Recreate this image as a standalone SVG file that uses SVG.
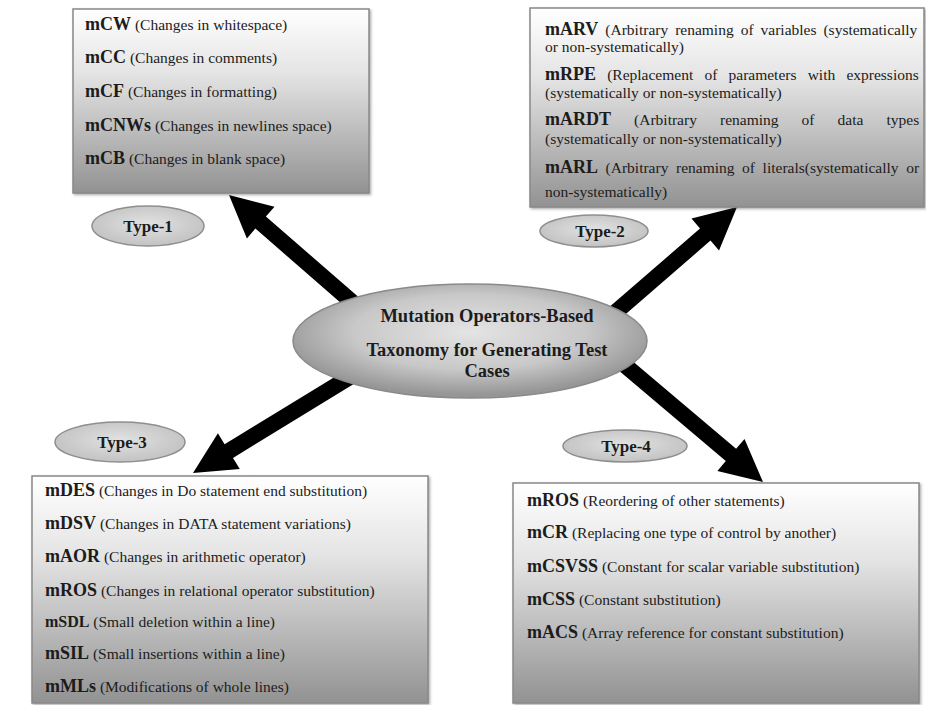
<svg xmlns="http://www.w3.org/2000/svg" width="926" height="705" viewBox="0 0 926 705">
  <defs>
    <linearGradient id="boxFill" x1="0" y1="0" x2="0" y2="1">
      <stop offset="0" stop-color="#ffffff"/>
      <stop offset="0.35" stop-color="#e4e4e4"/>
      <stop offset="1" stop-color="#929292"/>
    </linearGradient>
    <radialGradient id="hubFill" cx="0.5" cy="0.42" r="0.55">
      <stop offset="0" stop-color="#e4e4e4"/>
      <stop offset="0.6" stop-color="#c8c8c8"/>
      <stop offset="1" stop-color="#969696"/>
    </radialGradient>
    <radialGradient id="tagFill" cx="0.5" cy="0.45" r="0.55">
      <stop offset="0" stop-color="#e2e2e2"/>
      <stop offset="1" stop-color="#c2c2c2"/>
    </radialGradient>
    <filter id="shadow" x="-5%" y="-5%" width="110%" height="110%">
      <feDropShadow dx="1.5" dy="1.5" stdDeviation="1.2" flood-color="#555" flood-opacity="0.45"/>
    </filter>
  </defs>
  <style>
    .box { fill: url(#boxFill); stroke: #888; stroke-width: 1.5; filter: url(#shadow); }
    .hub { fill: url(#hubFill); stroke: #8a8a8a; stroke-width: 1.5; }
    .tag { fill: url(#tagFill); stroke: #8e8e8e; stroke-width: 1.5; }
    .arrow { fill: #000; }
    text { font-family: "Liberation Serif", "Times New Roman", serif; fill: #1c1c1c; }
    .t { font-size: 15.5px; }
    .b { font-weight: bold; font-size: 18px; }
    .bs { font-weight: bold; font-size: 16px; }
    .hubtxt { font-weight: bold; font-size: 18.5px; text-anchor: middle; }
    .tagtxt { font-weight: bold; font-size: 17px; text-anchor: middle; }
  </style>

  <!-- connectors: hub to the four type boxes -->
  <g id="connectors">
    <polygon class="arrow" points="229,195 274.5,206.7 265.9,216.5 368.6,305.8 358.1,317.9 255.4,228.6 246.9,238.4"/>
    <polygon class="arrow" points="737,207 719,250.4 710.5,240.6 614.6,323.7 604.1,311.6 700,228.5 691.5,218.6"/>
    <polygon class="arrow" points="193,473 217.9,433.2 224.6,444.3 348.6,368.4 357,382 233,457.9 239.8,469"/>
    <polygon class="arrow" points="763,482 717.4,470.9 725.8,461 611.9,364.7 622.3,352.5 736.1,448.8 744.5,438.9"/>
  </g>

  <!-- central hub -->
  <g id="hub">
    <ellipse class="hub" cx="470" cy="341" rx="177" ry="57"/>
    <text class="hubtxt" x="487" y="322">Mutation Operators-Based</text>
    <text class="hubtxt" x="487" y="356">Taxonomy for Generating Test</text>
    <text class="hubtxt" x="487" y="377">Cases</text>
  </g>

  <!-- Type-1 -->
  <g id="type1-box">
    <rect class="box" x="73" y="9" width="296" height="184"/>
    <text class="t" x="85" y="30"><tspan class="b">mCW</tspan> (Changes in whitespace)</text>
    <text class="t" x="85" y="63"><tspan class="b">mCC</tspan> (Changes in comments)</text>
    <text class="t" x="85" y="97"><tspan class="b">mCF</tspan> (Changes in formatting)</text>
    <text class="t" x="85" y="131"><tspan class="b">mCNWs</tspan> (Changes in newlines space)</text>
    <text class="t" x="85" y="164"><tspan class="b">mCB</tspan> (Changes in blank space)</text>
  </g>
  <g id="type1-tag">
    <ellipse class="tag" cx="148" cy="226" rx="56" ry="20"/>
    <text class="tagtxt" x="148" y="232">Type-1</text>
  </g>

  <!-- Type-2 (justified paragraphs) -->
  <g id="type2-box">
    <rect class="box" x="530" y="8" width="394" height="199"/>
    <text class="t" x="545" y="35" word-spacing="3.1"><tspan class="b">mARV</tspan> (Arbitrary renaming of variables (systematically</text>
    <text class="t" x="545" y="52">or non-systematically)</text>
    <text class="t" x="545" y="80" word-spacing="7.3"><tspan class="b">mRPE</tspan> (Replacement of parameters with expressions</text>
    <text class="t" x="545" y="98">(systematically or non-systematically)</text>
    <text class="t" x="545" y="125" word-spacing="19.2"><tspan class="b">mARDT</tspan> (Arbitrary renaming of data types</text>
    <text class="t" x="545" y="144">(systematically or non-systematically)</text>
    <text class="t" x="545" y="173" word-spacing="3.7"><tspan class="b">mARL</tspan> (Arbitrary renaming of literals(systematically or</text>
    <text class="t" x="545" y="197">non-systematically)</text>
  </g>
  <g id="type2-tag">
    <ellipse class="tag" cx="594" cy="231" rx="54" ry="16"/>
    <text class="tagtxt" x="600" y="237">Type-2</text>
  </g>

  <!-- Type-3 -->
  <g id="type3-tag">
    <ellipse class="tag" cx="120" cy="442" rx="65" ry="20"/>
    <text class="tagtxt" x="122" y="448">Type-3</text>
  </g>
  <g id="type3-box">
    <rect class="box" x="32" y="476" width="396" height="227"/>
    <text class="t" x="45" y="496"><tspan class="b">mDES</tspan> (Changes in Do statement end substitution)</text>
    <text class="t" x="45" y="529"><tspan class="b">mDSV</tspan> (Changes in DATA statement variations)</text>
    <text class="t" x="45" y="562"><tspan class="b">mAOR</tspan> (Changes in arithmetic operator)</text>
    <text class="t" x="45" y="596"><tspan class="b">mROS</tspan> (Changes in relational operator substitution)</text>
    <text class="t" x="45" y="627"><tspan class="bs">mSDL</tspan> (Small deletion within a line)</text>
    <text class="t" x="45" y="659"><tspan class="b">mSIL</tspan> (Small insertions within a line)</text>
    <text class="t" x="45" y="692"><tspan class="b">mMLs</tspan> (Modifications of whole lines)</text>
  </g>

  <!-- Type-4 -->
  <g id="type4-tag">
    <ellipse class="tag" cx="625" cy="446" rx="62" ry="16"/>
    <text class="tagtxt" x="626" y="452">Type-4</text>
  </g>
  <g id="type4-box">
    <rect class="box" x="513" y="483" width="406" height="220"/>
    <text class="t" x="527" y="506"><tspan class="b">mROS</tspan> (Reordering of other statements)</text>
    <text class="t" x="527" y="538"><tspan class="b">mCR</tspan> (Replacing one type of control by another)</text>
    <text class="t" x="527" y="572"><tspan class="b">mCSVSS</tspan> (Constant for scalar variable substitution)</text>
    <text class="t" x="527" y="605"><tspan class="b">mCSS</tspan> (Constant substitution)</text>
    <text class="t" x="527" y="638"><tspan class="b">mACS</tspan> (Array reference for constant substitution)</text>
  </g>
</svg>
